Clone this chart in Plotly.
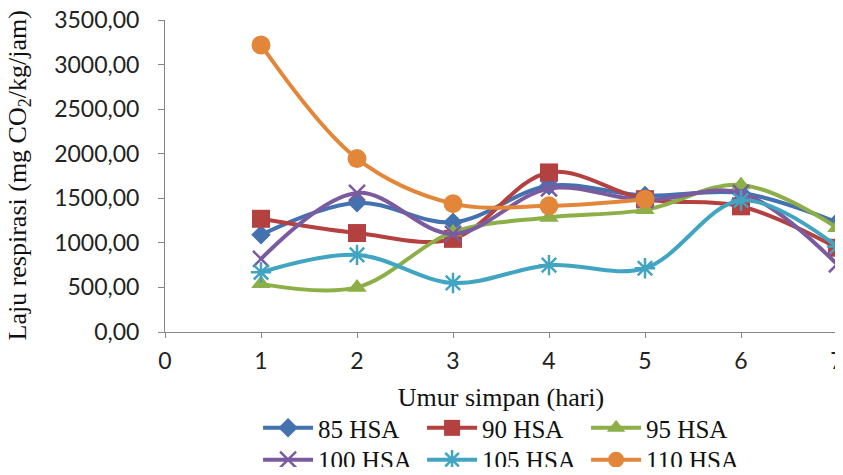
import plotly.graph_objects as go

days = [1, 2, 3, 4, 5, 6, 7]
series_names = ["85 HSA", "90 HSA", "95 HSA", "100 HSA", "105 HSA", "110 HSA"]
hsa85 = [1090, 1450, 1230, 1640, 1530, 1560, 1230]
hsa90 = [1270, 1110, 1045, 1790, 1490, 1410, 945]
hsa95 = [540, 500, 1120, 1285, 1370, 1650, 1170]
hsa100 = [820, 1560, 1100, 1610, 1480, 1560, 760]
hsa105 = [670, 865, 550, 750, 715, 1475, 960]
hsa110 = [3220, 1945, 1440, 1415, 1490, None, None]

x_ticks = [0, 1, 2, 3, 4, 5, 6, 7]
y_ticks = [0, 500, 1000, 1500, 2000, 2500, 3000, 3500]

colors = ["#4471B0", "#B3413F", "#8CAF48", "#7A5B9F", "#41A5C1", "#E2873A"]
symbols = ["diamond", "square", "triangle-up", "x-thin-open", "asterisk-open", "circle"]
sizes = [15, 18, 17, 16, 17, 19]
values = [hsa85, hsa90, hsa95, hsa100, hsa105, hsa110]
legends = ["legend", "legend", "legend", "legend2", "legend2", "legend2"]

fig = go.Figure()
for name, vals, c, s, sz, lg in zip(series_names, values, colors, symbols, sizes, legends):
    xs = [d for d, v in zip(days, vals) if v is not None]
    ys = [v for v in vals if v is not None]
    mk = dict(symbol=s, size=sz, color=c)
    if s.endswith("open"):
        mk["line"] = dict(color=c, width=2.5)
    fig.add_trace(go.Scatter(
        x=xs, y=ys, name=name, mode="lines+markers",
        line=dict(color=c, width=4, shape="spline", smoothing=1),
        marker=mk, legend=lg,
    ))

tickfont = dict(family="Lato, Open Sans, sans-serif", size=23, color="#222222")
serif = "Liberation Serif, Times New Roman, serif"
legfont = dict(family=serif, size=25, color="#111111")

# the page body has an 8px margin, so the figure is offset by 8px
fig.update_layout(
    width=829, height=459,
    margin=dict(l=157, r=0, t=12, b=135, autoexpand=False),
    paper_bgcolor="white", plot_bgcolor="white",
    separators=",.",
    showlegend=True,
    legend=dict(orientation="h", x=0.1385, xanchor="left", y=-0.308, yanchor="middle",
                font=legfont, entrywidth=99, entrywidthmode="pixels", itemwidth=50,
                bgcolor="rgba(0,0,0,0)", tracegroupgap=0),
    legend2=dict(orientation="h", x=0.1385, xanchor="left", y=-0.41, yanchor="middle",
                 font=legfont, entrywidth=99, entrywidthmode="pixels", itemwidth=50,
                 bgcolor="rgba(0,0,0,0)", tracegroupgap=0),
    xaxis=dict(range=[0, 7], tickvals=x_ticks, ticktext=[str(t) for t in x_ticks],
               showgrid=False, zeroline=False, showline=True, linecolor="#868686",
               linewidth=1, ticks="outside", ticklen=5, tickcolor="#868686",
               tickfont=tickfont, ticklabeloverflow="allow", ticklabelstandoff=3,
               title=dict(text="Umur simpan (hari)", font=dict(family=serif, size=26, color="#111111"),
                          standoff=15)),
    yaxis=dict(range=[0, 3500], tickvals=y_ticks, tickformat=".2f",
               showgrid=False, zeroline=False, showline=True, linecolor="#868686",
               linewidth=1, ticks="outside", ticklen=6, tickcolor="#868686",
               tickfont=tickfont, ticklabelstandoff=14, ticklabeloverflow="allow"),
    annotations=[dict(
        text="Laju respirasi (mg CO<sub>2</sub>/kg/jam)", textangle=-90,
        xref="paper", yref="paper", x=-0.218, y=0.5, xanchor="center", yanchor="middle",
        showarrow=False, font=dict(family=serif, size=26, color="#111111"))],
)

fig.write_html("out.html")
